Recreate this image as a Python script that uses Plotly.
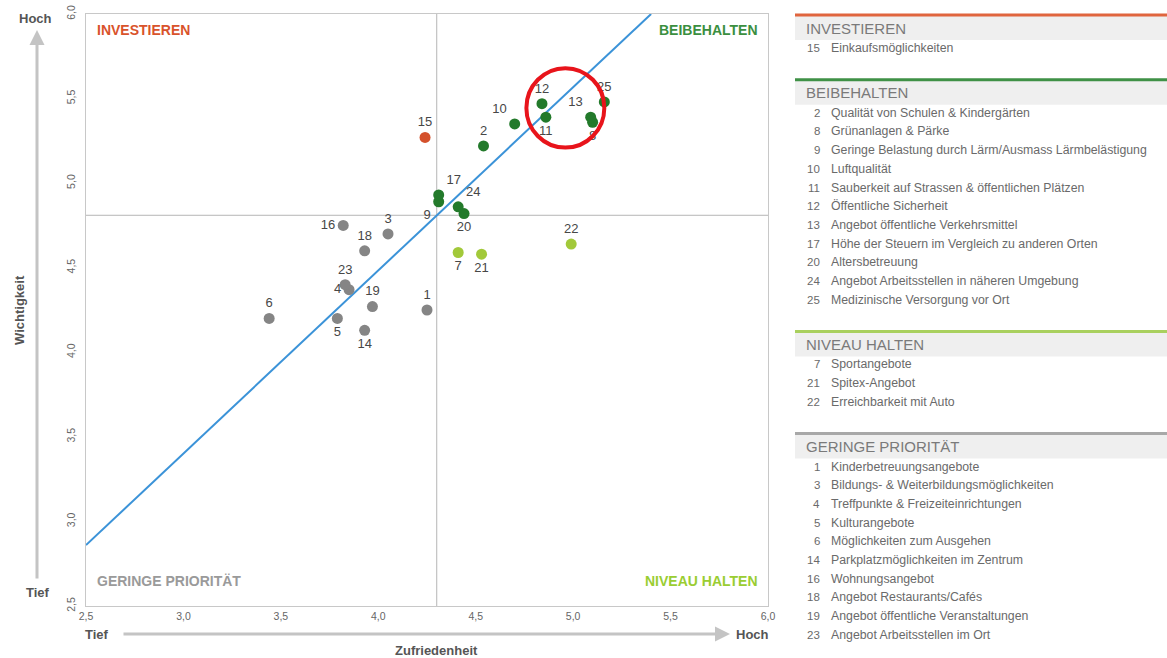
import plotly.graph_objects as go

# ---------------- data ----------------
ids = list(range(1, 26))
zufriedenheit = [4.25, 4.54, 4.05, 3.85, 3.79, 3.44, 4.41, 5.10, 4.31, 4.70,
                 4.86, 4.84, 5.09, 3.93, 4.24, 3.82, 4.31, 3.93, 3.97, 4.44,
                 4.53, 4.99, 3.83, 4.41, 5.16]
wichtigkeit = [4.25, 5.22, 4.70, 4.37, 4.20, 4.20, 4.59, 5.36, 4.89, 5.35,
               5.39, 5.47, 5.39, 4.13, 5.27, 4.75, 4.93, 4.60, 4.27, 4.82,
               4.58, 4.64, 4.40, 4.86, 5.48]
gruppe = ["G", "B", "G", "G", "G", "G", "N", "B", "B", "B",
          "B", "B", "B", "G", "I", "G", "B", "G", "G", "B",
          "N", "N", "G", "B", "B"]
namen = [
    "Kinderbetreuungsangebote",
    "Qualität von Schulen & Kindergärten",
    "Bildungs- & Weiterbildungsmöglichkeiten",
    "Treffpunkte & Freizeiteinrichtungen",
    "Kulturangebote",
    "Möglichkeiten zum Ausgehen",
    "Sportangebote",
    "Grünanlagen & Pärke",
    "Geringe Belastung durch Lärm/Ausmass Lärmbelästigung",
    "Luftqualität",
    "Sauberkeit auf Strassen & öffentlichen Plätzen",
    "Öffentliche Sicherheit",
    "Angebot öffentliche Verkehrsmittel",
    "Parkplatzmöglichkeiten im Zentrum",
    "Einkaufsmöglichkeiten",
    "Wohnungsangebot",
    "Höhe der Steuern im Vergleich zu anderen Orten",
    "Angebot Restaurants/Cafés",
    "Angebot öffentliche Veranstaltungen",
    "Altersbetreuung",
    "Spitex-Angebot",
    "Erreichbarkeit mit Auto",
    "Angebot Arbeitsstellen im Ort",
    "Angebot Arbeitsstellen in näheren Umgebung",
    "Medizinische Versorgung vor Ort",
]
label_pos = ["top center", "top center", "top center", "middle left", "bottom center",
             "top center", "bottom center", "bottom center", "bottom left", "top left",
             "bottom center", "top center", "top left", "bottom center", "top center",
             "middle left", "top right", "top center", "top center", "bottom center",
             "bottom center", "top center", "top center", "top right", "top center"]

group_keys = ["I", "B", "N", "G"]
group_names = ["INVESTIEREN", "BEIBEHALTEN", "NIVEAU HALTEN", "GERINGE PRIORITÄT"]
group_colors = ["#d4512c", "#237a2b", "#a2c93a", "#858585"]
title_colors = ["#d9532b", "#3b8f3f", "#9acd32", "#9a9a9a"]
line_colors = ["#e0653e", "#3f9146", "#a9d05e", "#a8a8a8"]

mean_x = 4.30
mean_y = 4.81
trend_x = [2.5, 5.40]
trend_y = [2.86, 6.0]
x_range = [2.5, 6.0]
y_range = [2.5, 6.0]
ticks = [2.5, 3.0, 3.5, 4.0, 4.5, 5.0, 5.5, 6.0]

# circled highlight (data coords)
circle_x = [4.76, 5.16]
circle_y = [5.21, 5.68]

# ---------------- layout helpers ----------------
W, H = 1167, 658
L, R, T, B = 86, 768, 14, 606


def px(x):
    return (x - L) / (R - L)


def py(y):
    return (B - y) / (B - T)


FONT = "Liberation Sans, Arial, sans-serif"
col_map = dict(zip(group_keys, group_colors))

fig = go.Figure()

fig.add_trace(go.Scatter(
    x=trend_x, y=trend_y, mode="lines",
    line=dict(color="#3b93d8", width=2), hoverinfo="skip", showlegend=False))

fig.add_trace(go.Scatter(
    x=zufriedenheit, y=wichtigkeit, mode="markers+text",
    text=[str(i) for i in ids], textposition=label_pos,
    textfont=dict(family=FONT, size=13, color="#474747"),
    marker=dict(size=11, color=[col_map[g] for g in gruppe]),
    customdata=namen, hovertemplate="%{customdata}<extra></extra>",
    showlegend=False))

shapes = []
# mean lines
shapes.append(dict(type="line", xref="x", yref="paper", x0=mean_x, x1=mean_x, y0=0, y1=1,
                   line=dict(color="#b5b5b5", width=1), layer="below"))
shapes.append(dict(type="line", xref="paper", yref="y", x0=0, x1=1, y0=mean_y, y1=mean_y,
                   line=dict(color="#b5b5b5", width=1), layer="below"))
# highlight circle
shapes.append(dict(type="circle", xref="x", yref="y",
                   x0=circle_x[0], x1=circle_x[1], y0=circle_y[0], y1=circle_y[1],
                   line=dict(color="#e8141b", width=4)))

annotations = []


def text_at(x, y, text, size, color, xanchor="center", angle=0):
    annotations.append(dict(xref="paper", yref="paper", x=px(x), y=py(y), text=text,
                            xanchor=xanchor, yanchor="middle", textangle=angle,
                            showarrow=False, font=dict(family=FONT, size=size, color=color)))


# quadrant labels
text_at(95, 30, "<b>INVESTIEREN</b>", 14, title_colors[0], "left")
text_at(760, 30, "<b>BEIBEHALTEN</b>", 14, title_colors[1], "right")
text_at(95, 581, "<b>GERINGE PRIORITÄT</b>", 14, title_colors[3], "left")
text_at(760, 581, "<b>NIVEAU HALTEN</b>", 14, title_colors[2], "right")

# axis arrows and labels
annotations.append(dict(xref="paper", yref="paper", x=px(730), y=py(634), ax=-608, ay=0,
                        text="", showarrow=True, arrowhead=2, arrowsize=1, arrowwidth=3,
                        arrowcolor="#c4c4c4"))
text_at(97, 634, "<b>Tief</b>", 13, "#555555")
text_at(752, 634, "<b>Hoch</b>", 13, "#555555")
text_at(436, 650, "<b>Zufriedenheit</b>", 13, "#555555")

annotations.append(dict(xref="paper", yref="paper", x=px(37), y=py(30), ax=0, ay=550,
                        text="", showarrow=True, arrowhead=2, arrowsize=1, arrowwidth=3,
                        arrowcolor="#c4c4c4"))
text_at(35, 18, "<b>Hoch</b>", 13, "#555555")
text_at(38, 592, "<b>Tief</b>", 13, "#555555")
text_at(19, 310, "<b>Wichtigkeit</b>", 13, "#555555", angle=-90)

# ---------------- right panel (grouped list) ----------------
panel_x0, panel_x1 = 795, 1167
row_h = 18.7
top = 15
for gk, gname, lcol in zip(group_keys, group_names, line_colors):
    members = [i for i, g in zip(ids, gruppe) if g == gk]
    shapes.append(dict(type="rect", xref="paper", yref="paper",
                       x0=px(panel_x0), x1=px(panel_x1), y0=py(top + 25), y1=py(top),
                       fillcolor="#efefef", line=dict(width=0), layer="below"))
    shapes.append(dict(type="line", xref="paper", yref="paper",
                       x0=px(panel_x0), x1=px(panel_x1), y0=py(top), y1=py(top),
                       line=dict(color=lcol, width=3)))
    text_at(804, top + 13, gname, 15, "#7a7a7a", "left")
    for k, m in enumerate(members):
        yy = top + 33 + k * row_h
        text_at(822, yy, str(m), 11.5, "#6a6a6a", "right")
        text_at(829, yy, namen[m - 1], 12.3, "#6a6a6a", "left")
    top = top + 33 + len(members) * row_h + 13

fig.update_layout(
    width=W, height=H, autosize=False,
    margin=dict(l=L, r=W - R, t=T, b=H - B, autoexpand=False),
    paper_bgcolor="white", plot_bgcolor="white",
    separators=",.",
    shapes=shapes, annotations=annotations,
    font=dict(family=FONT),
)
fig.update_xaxes(range=x_range, tickvals=ticks, tickformat=".1f", showgrid=False, zeroline=False,
                 showline=True, mirror=True, linecolor="#c8c8c8", linewidth=1, automargin=False,
                 ticks="", tickfont=dict(family=FONT, size=10.5, color="#666666"))
fig.update_yaxes(range=y_range, tickvals=ticks, tickformat=".1f", showgrid=False, zeroline=False,
                 showline=True, mirror=True, linecolor="#c8c8c8", linewidth=1, automargin=False,
                 ticks="", tickangle=-90, ticklabelstandoff=6,
                 tickfont=dict(family=FONT, size=10.5, color="#666666"))

fig.write_html(
    "out.html",
    config={"displayModeBar": False},
    post_script="document.body.style.margin='0px';"
                "document.documentElement.style.overflow='hidden';"
                "document.body.style.overflow='hidden';",
)
